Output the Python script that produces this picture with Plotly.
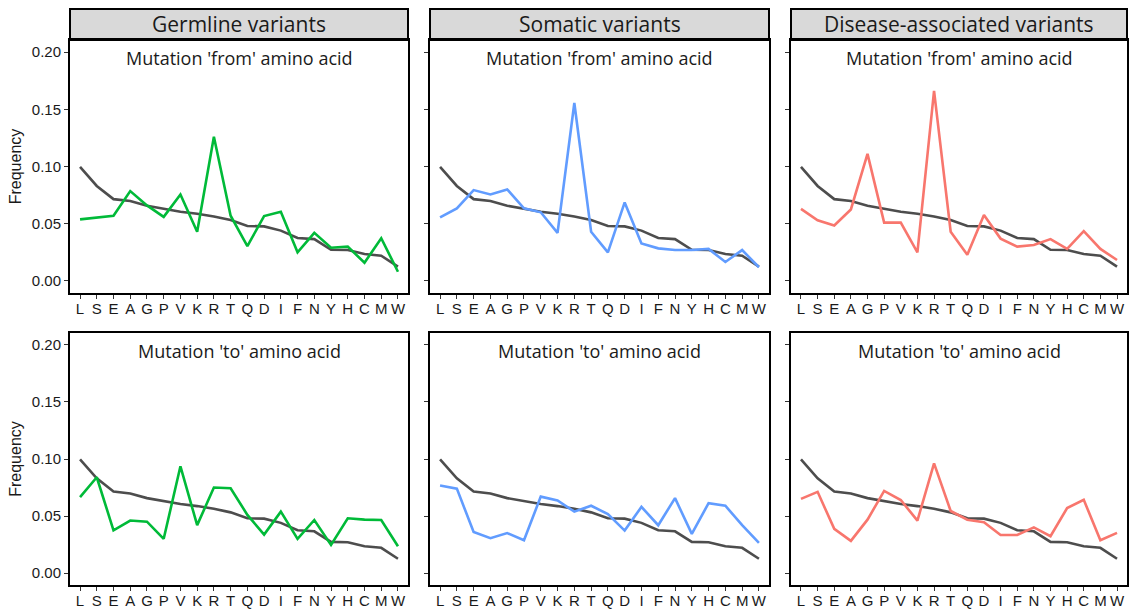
import plotly.graph_objects as go

amino_acids = ["L", "S", "E", "A", "G", "P", "V", "K", "R", "T",
               "Q", "D", "I", "F", "N", "Y", "H", "C", "M", "W"]

background = [0.0997, 0.083, 0.0715, 0.0698, 0.0657, 0.0628, 0.0605, 0.0587, 0.0564, 0.0532,
              0.048, 0.0477, 0.044, 0.0375, 0.0366, 0.0273, 0.027, 0.0235, 0.0221, 0.0125]

germline_from = [0.0538, 0.0555, 0.057, 0.0785, 0.066, 0.056, 0.0756, 0.043, 0.1259, 0.057,
                 0.0305, 0.0567, 0.0605, 0.025, 0.042, 0.029, 0.030, 0.016, 0.0373, 0.0081]
somatic_from = [0.0555, 0.0634, 0.0794, 0.0756, 0.080, 0.0635, 0.060, 0.042, 0.1555, 0.043,
                0.025, 0.0686, 0.0328, 0.0285, 0.027, 0.027, 0.028, 0.0166, 0.027, 0.012]
disease_from = [0.063, 0.053, 0.0485, 0.0625, 0.111, 0.051, 0.051, 0.025, 0.166, 0.043,
                0.023, 0.0576, 0.037, 0.030, 0.0314, 0.0366, 0.028, 0.0436, 0.028, 0.0183]

germline_to = [0.0666, 0.084, 0.0375, 0.046, 0.045, 0.030, 0.0936, 0.042, 0.075, 0.0744,
               0.051, 0.0337, 0.0538, 0.030, 0.0465, 0.0247, 0.048, 0.0468, 0.0465, 0.0235]
somatic_to = [0.0767, 0.074, 0.036, 0.0305, 0.035, 0.0288, 0.067, 0.0637, 0.0538, 0.059,
              0.0517, 0.0372, 0.058, 0.0419, 0.0657, 0.0343, 0.0613, 0.059, 0.042, 0.0265]
disease_to = [0.065, 0.0712, 0.0387, 0.0282, 0.0468, 0.072, 0.064, 0.046, 0.0962, 0.0544,
              0.0468, 0.0445, 0.0334, 0.0334, 0.040, 0.0323, 0.057, 0.0642, 0.0288, 0.0352]

column_titles = ["Germline variants", "Somatic variants", "Disease-associated variants"]
row_titles = ["Mutation 'from' amino acid", "Mutation 'to' amino acid"]
colors = ["#00BA38", "#619CFF", "#F8766D"]
y_tickvals = [0.0, 0.05, 0.10, 0.15, 0.20]
y_ticktext = ["0.00", "0.05", "0.10", "0.15", "0.20"]

series = [[germline_from, somatic_from, disease_from],
          [germline_to, somatic_to, disease_to]]

# the page body margin is removed below, so figure coordinates = screen coordinates
W, H = 1129, 610
col_px = [(70, 408), (430, 769), (791, 1127)]
row_px = [(40, 293), (333, 585)]
strip_top = 9

fig = go.Figure()
layout = {}
shapes = []
annotations = []

ANNO_FONT = dict(family="Open Sans, Noto Sans, sans-serif", size=18, color="#1a1a1a")
TICK_FONT = dict(family="Liberation Sans, Arial, sans-serif", size=15, color="#1a1a1a")

idx = 0
for r in range(2):
    for c in range(3):
        idx += 1
        xa = "x" if idx == 1 else f"x{idx}"
        ya = "y" if idx == 1 else f"y{idx}"
        xkey = "xaxis" if idx == 1 else f"xaxis{idx}"
        ykey = "yaxis" if idx == 1 else f"yaxis{idx}"
        x0, x1 = col_px[c]
        top, bot = row_px[r]
        fig.add_trace(go.Scatter(x=amino_acids, y=background, mode="lines",
                                 line=dict(color="#4d4d4d", width=2.6),
                                 xaxis=xa, yaxis=ya, showlegend=False, hoverinfo="skip"))
        fig.add_trace(go.Scatter(x=amino_acids, y=series[r][c], mode="lines",
                                 line=dict(color=colors[c], width=2.6),
                                 xaxis=xa, yaxis=ya, showlegend=False, hoverinfo="skip"))
        layout[xkey] = dict(domain=[x0 / W, x1 / W], anchor=ya, automargin=False,
                            type="category", categoryorder="array", categoryarray=amino_acids,
                            tickmode="array", tickvals=amino_acids, ticktext=amino_acids,
                            range=[-0.6, 19.6], showgrid=False, zeroline=False,
                            showline=True, mirror=True, linecolor="black", linewidth=2,
                            ticks="outside", ticklen=4, tickwidth=1, tickcolor="#333333",
                            ticklabelstandoff=-3,
                            tickfont=TICK_FONT, fixedrange=True)
        layout[ykey] = dict(domain=[1 - bot / H, 1 - top / H], anchor=xa, automargin=False,
                            range=[-0.0105, 0.2105], showgrid=False, zeroline=False,
                            showline=True, mirror=True, linecolor="black", linewidth=2,
                            ticks="outside", ticklen=4, tickwidth=1, tickcolor="#333333",
                            tickvals=y_tickvals, ticktext=y_ticktext,
                            showticklabels=(c == 0), tickfont=TICK_FONT, fixedrange=True)
        if c == 0:
            layout[ykey]["title"] = dict(text="Frequency", standoff=6,
                                         font=dict(family="Liberation Sans, Arial, sans-serif",
                                                   size=16, color="#1a1a1a"))
        annotations.append(dict(text=row_titles[r], xref=f"{xa} domain", yref=f"{ya} domain",
                                x=0.5, y=1 - 18 / (bot - top), xanchor="center", yanchor="middle",
                                showarrow=False, font=ANNO_FONT))
        if r == 0:
            shapes.append(dict(type="rect", xref="paper", yref="paper",
                               x0=x0 / W, x1=x1 / W, y0=1 - top / H, y1=1 - strip_top / H,
                               fillcolor="#d9d9d9", line=dict(color="black", width=2),
                               layer="below"))
            annotations.append(dict(text=column_titles[c], xref="paper", yref="paper",
                                    x=(x0 + x1) / 2 / W, y=1 - ((strip_top + top) / 2) / H,
                                    xanchor="center", yanchor="middle", showarrow=False,
                                    font=dict(family="Open Sans, Noto Sans, sans-serif",
                                              size=21, color="#1a1a1a")))

fig.update_layout(**layout)
fig.update_layout(width=W, height=H, margin=dict(l=0, r=0, t=0, b=0),
                  paper_bgcolor="white", plot_bgcolor="white", hovermode=False,
                  shapes=shapes, annotations=annotations, showlegend=False)

fig.write_html("out.html",
               config={"displayModeBar": False},
               post_script="document.body.style.margin='0';"
                           "document.documentElement.style.overflow='hidden';"
                           "document.body.style.overflow='hidden';")
